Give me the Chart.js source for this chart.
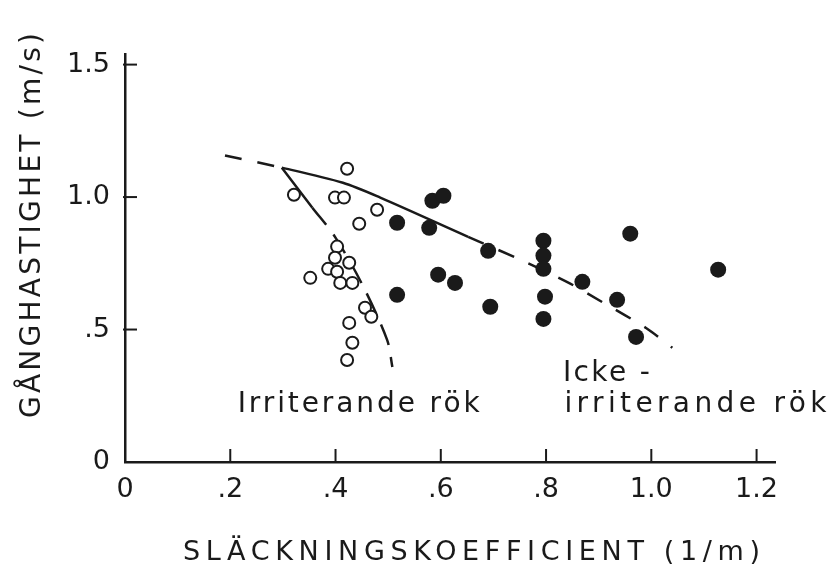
<!DOCTYPE html>
<html>
<head>
<meta charset="utf-8">
<script src="https://cdn.jsdelivr.net/npm/chart.js@4.4.1/dist/chart.umd.min.js"></script>
<style>
  html, body { margin: 0; padding: 0; background: #fff; }
  #wrap { width: 831px; height: 570px; }
</style>
</head>
<body>
<div id="wrap"><canvas id="chart" width="831" height="570"></canvas></div>
<script>
// Irriterande rök (open circles): släckningskoefficient (1/m) vs gånghastighet (m/s)
const irritX = [0.422, 0.321, 0.399, 0.416, 0.479, 0.445, 0.403, 0.399, 0.426, 0.386,
                0.403, 0.352, 0.409, 0.432, 0.456, 0.468, 0.426, 0.432, 0.422];
const irritY = [1.107, 1.009, 0.998, 0.998, 0.952, 0.899, 0.813, 0.771, 0.752, 0.729,
                0.718, 0.695, 0.676, 0.676, 0.582, 0.548, 0.525, 0.450, 0.385];

// Icke-irriterande rök (filled circles)
const nonIrritX = [0.517, 0.584, 0.605, 0.578, 0.690, 0.595, 0.627, 0.517, 0.694, 0.795,
                   0.795, 0.795, 0.960, 1.127, 0.869, 0.798, 0.795, 0.935, 0.971];
const nonIrritY = [0.903, 0.986, 1.005, 0.884, 0.797, 0.707, 0.676, 0.631, 0.586, 0.835,
                   0.779, 0.729, 0.862, 0.726, 0.680, 0.624, 0.540, 0.612, 0.472];

// hand-fitted trend curves
const nonIrritCurveX = [0.190, 0.298, 0.414, 0.485, 0.652, 0.755, 0.846, 0.909, 0.990, 1.040];
const nonIrritCurveY = [1.157, 1.111, 1.054, 0.998, 0.850, 0.760, 0.673, 0.601, 0.506, 0.431];
const irritCurveX = [0.298, 0.356, 0.399, 0.451, 0.498, 0.508];
const irritCurveY = [1.111, 0.960, 0.850, 0.669, 0.461, 0.359];

const xTicks = [0, 0.2, 0.4, 0.6, 0.8, 1.0, 1.2];
const xTickLabels = ['0', '.2', '.4', '.6', '.8', '1.0', '1.2'];
const yTicks = [0, 0.5, 1.0, 1.5];
const yTickLabels = ['0', '.5', '1.0', '1.5'];

const INK = '#1a1a1a';
const FONT = '"DejaVu Sans", sans-serif';

const toPoints = (xs, ys) => xs.map((x, i) => ({ x: x, y: ys[i] }));

// stretch text to a given width with letter spacing
function spacedText(ctx, text, x, y, width) {
    ctx.letterSpacing = '0px';
    const w = ctx.measureText(text).width;
    const sp = Math.max(0, (width - w) / (text.length - 1));
    ctx.letterSpacing = sp + 'px';
    ctx.fillText(text, x, y);
    ctx.letterSpacing = '0px';
}

const decorations = {
    id: 'decorations',
    afterDraw(chart) {
        const { ctx, scales: { x, y } } = chart;
        ctx.save();
        ctx.strokeStyle = INK;
        ctx.fillStyle = INK;
        ctx.lineWidth = 2;

        // inward tick marks
        const x0 = x.getPixelForValue(0);
        const y0 = y.getPixelForValue(0);
        yTicks.forEach(v => {
            if (v === 0) return;
            const py = y.getPixelForValue(v);
            ctx.beginPath();
            ctx.moveTo(x0 - 2, py);
            ctx.lineTo(x0 + 12, py);
            ctx.stroke();
        });
        xTicks.forEach(v => {
            if (v === 0) return;
            const px = x.getPixelForValue(v);
            ctx.beginPath();
            ctx.moveTo(px, y0);
            ctx.lineTo(px, y0 - 13);
            ctx.stroke();
        });

        // axis titles
        ctx.textBaseline = 'middle';
        ctx.textAlign = 'left';
        ctx.font = '27px ' + FONT;
        spacedText(ctx, 'SLÄCKNINGSKOEFFICIENT (1/m)', 183, 553, 577);

        ctx.save();
        ctx.translate(33, 225);
        ctx.rotate(-Math.PI / 2);
        ctx.font = '28px ' + FONT;
        spacedText(ctx, 'GÅNGHASTIGHET (m/s)', -193, 0, 385);
        ctx.restore();

        // curve labels
        ctx.textBaseline = 'alphabetic';
        ctx.font = '28px ' + FONT;
        spacedText(ctx, 'Irriterande rök', x.getPixelForValue(0.214), y.getPixelForValue(0.189), 242);
        spacedText(ctx, 'Icke -', x.getPixelForValue(0.832), y.getPixelForValue(0.306), 87);
        spacedText(ctx, 'irriterande rök', x.getPixelForValue(0.835), y.getPixelForValue(0.189), 262);
        ctx.restore();
    }
};

const solidFrom = 1, solidTo = 4;

new Chart(document.getElementById('chart'), {
    type: 'scatter',
    data: {
        datasets: [
            {
                label: 'Irriterande rök',
                data: toPoints(irritX, irritY),
                pointRadius: 6,
                pointBorderWidth: 2,
                pointBorderColor: INK,
                pointBackgroundColor: '#fff'
            },
            {
                label: 'Icke-irriterande rök',
                data: toPoints(nonIrritX, nonIrritY),
                pointRadius: 8,
                pointBorderWidth: 0,
                pointBackgroundColor: INK
            },
            {
                label: 'Icke-irriterande kurva',
                data: toPoints(nonIrritCurveX, nonIrritCurveY),
                showLine: true,
                pointRadius: 0,
                borderColor: INK,
                borderWidth: 2.5,
                tension: 0.3,
                segment: {
                    borderDash: c => (c.p0DataIndex >= solidFrom && c.p1DataIndex <= solidTo) ? [] : [17, 16]
                }
            },
            {
                label: 'Irriterande kurva',
                data: toPoints(irritCurveX, irritCurveY),
                showLine: true,
                pointRadius: 0,
                borderColor: INK,
                borderWidth: 2.5,
                tension: 0.3,
                segment: {
                    borderDash: c => c.p0DataIndex === 0 ? [] : [22, 12]
                }
            }
        ]
    },
    options: {
        responsive: false,
        animation: false,
        devicePixelRatio: 1,
        layout: { padding: { top: 54, right: 56, left: 0, bottom: 0 } },
        plugins: {
            legend: { display: false },
            tooltip: { enabled: false }
        },
        scales: {
            x: {
                type: 'linear',
                min: 0,
                max: 1.235,
                afterBuildTicks: s => { s.ticks = xTicks.map(v => ({ value: v })); },
                afterFit: s => { s.height = 108; },
                ticks: {
                    callback: (v, i) => xTickLabels[i],
                    color: INK,
                    font: { family: FONT, size: 27 },
                    padding: 12,
                    maxRotation: 0,
                    autoSkip: false
                },
                grid: { display: true, drawOnChartArea: false, drawTicks: false },
                border: { color: INK, width: 2.5 }
            },
            y: {
                type: 'linear',
                min: 0,
                max: 1.54,
                afterBuildTicks: s => { s.ticks = yTicks.map(v => ({ value: v })); },
                afterFit: s => { s.width = 125; },
                ticks: {
                    callback: (v, i) => yTickLabels[i],
                    color: INK,
                    font: { family: FONT, size: 27 },
                    padding: 15,
                    autoSkip: false
                },
                grid: { display: true, drawOnChartArea: false, drawTicks: false },
                border: { color: INK, width: 2.5 }
            }
        }
    },
    plugins: [decorations]
});
</script>
</body>
</html>
